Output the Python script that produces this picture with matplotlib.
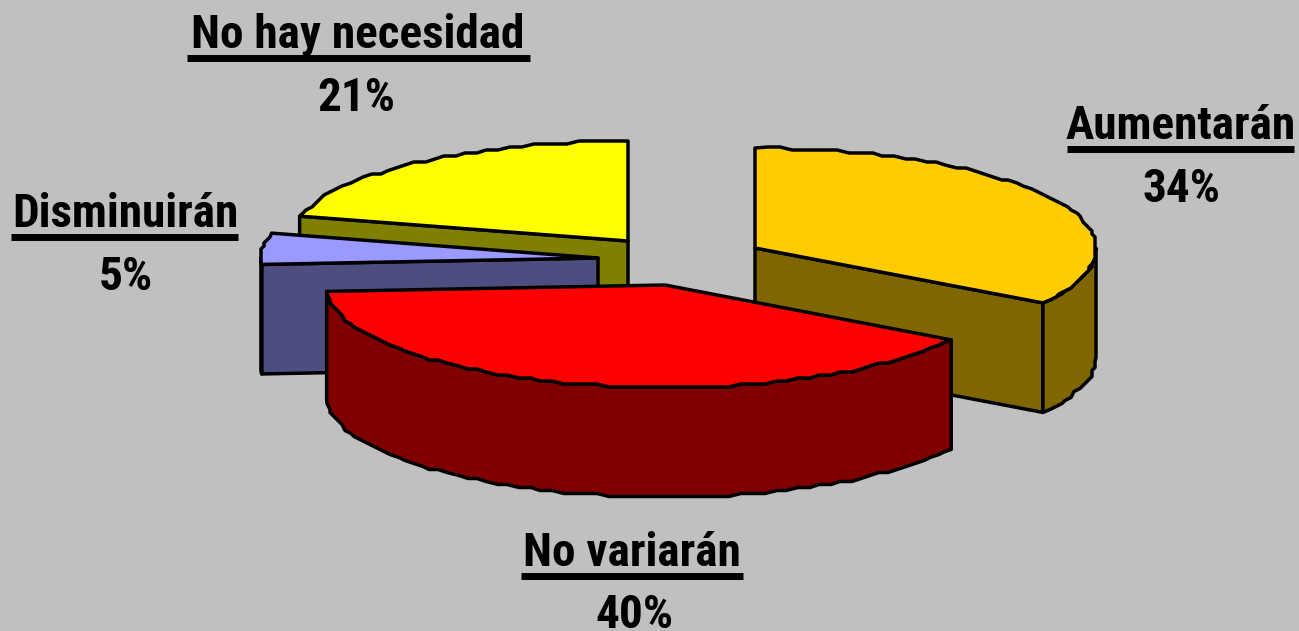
import numpy as np
import matplotlib
matplotlib.use("Agg")
import matplotlib.pyplot as plt
from matplotlib.patches import Polygon

# Data
categories = ["Aumentarán", "No variarán", "Disminuirán", "No hay necesidad"]
values = [34, 40, 5, 21]
pct_labels = ["34%", "40%", "5%", "21%"]

# Styles
top_colors = ["#FFCC00", "#FF0000", "#9999FF", "#FFFF00"]
side_colors = ["#806600", "#800000", "#4D4D80", "#808000"]
apexes = [(755, 248), (665, 285), (598, 258), (628, 241)]
radii_x = [341, 339, 337, 339]
RY_BACK, RY_FRONT = 100, 102.5
DEPTH = 109.5
LW = 2.5

# label layout: centre x, name baseline, pct baseline, underline x0, x1, y
label_pos = [
    (1180.5, 139, 202, 1067, 1294, 148.5),
    (632, 566, 628, 521, 743, 575.5),
    (125, 227, 290, 11, 238, 236.5),
    (358, 48, 111, 187, 530, 57.5),
]
pct_x = [1182, 634, 126, 356]
FONT_SIZE = 34

fig = plt.figure(figsize=(12.99, 6.31), dpi=100, facecolor="#C0C0C0")
ax = fig.add_axes([0, 0, 1, 1])
ax.set_xlim(0, 1299)
ax.set_ylim(631, 0)
ax.axis("off")


def arc(apex, rx, a0, a1, step=2.0):
    """Outline of the pie rim, a0..a1 in degrees clockwise from 12 o'clock."""
    n = max(int(abs(a1 - a0) / step), 2)
    t = np.radians(np.linspace(a0, a1, n + 1))
    c = np.cos(t)
    ry = np.where(c < 0, RY_FRONT, RY_BACK)
    x = apex[0] + rx * np.sin(t)
    y = apex[1] - ry * c
    # coarse pixel grid, like the low resolution rim of the original
    x[1:-1] = np.round(x[1:-1] / 3) * 3
    y[1:-1] = np.round(y[1:-1] / 3) * 3
    return np.column_stack([x, y])


def poly(pts, color, z):
    ax.add_patch(Polygon(pts, closed=True, facecolor=color, edgecolor="black",
                         linewidth=LW, joinstyle="round", zorder=z))


ends = np.cumsum(values) / np.sum(values) * 360.0
starts = np.concatenate([[0.0], ends[:-1]])
down = np.array([0, DEPTH])

# back-to-front: yellow, blue, orange, red
for z, i in enumerate([3, 2, 0, 1]):
    apex = np.array(apexes[i], dtype=float)
    rim = arc(apex, radii_x[i], starts[i], ends[i])
    a0, a1 = starts[i], ends[i]
    # cut faces facing the viewer: orange uses its end edge, blue and yellow their start edge
    if i != 1:
        edge = rim[-1] if i == 0 else rim[0]
        poly([apex, edge, edge + down, apex + down], side_colors[i], z * 3 + 1)
    # outer wall on the near half of the pie
    lo, hi = max(a0, 90.0), min(a1, 270.0)
    if hi > lo:
        wall = arc(apex, radii_x[i], lo, hi)
        poly(np.vstack([wall, (wall + down)[::-1]]), side_colors[i], z * 3 + 2)
    poly(np.vstack([apex, rim]), top_colors[i], z * 3 + 3)

family = ["Roboto Condensed", "Liberation Sans"]
for i, name in enumerate(categories):
    cx, by, py, x0, x1, uy = label_pos[i]
    ax.text(cx, by, name, ha="center", va="baseline", fontsize=FONT_SIZE,
            fontweight="bold", family=family, color="black", zorder=50)
    ax.text(pct_x[i], py, pct_labels[i], ha="center", va="baseline", fontsize=FONT_SIZE,
            fontweight="bold", family=family, color="black", zorder=50, clip_on=False)
    ax.plot([x0, x1], [uy, uy], color="black", lw=5, solid_capstyle="butt", zorder=50)

fig.savefig("out.png", dpi=100, facecolor=fig.get_facecolor())
